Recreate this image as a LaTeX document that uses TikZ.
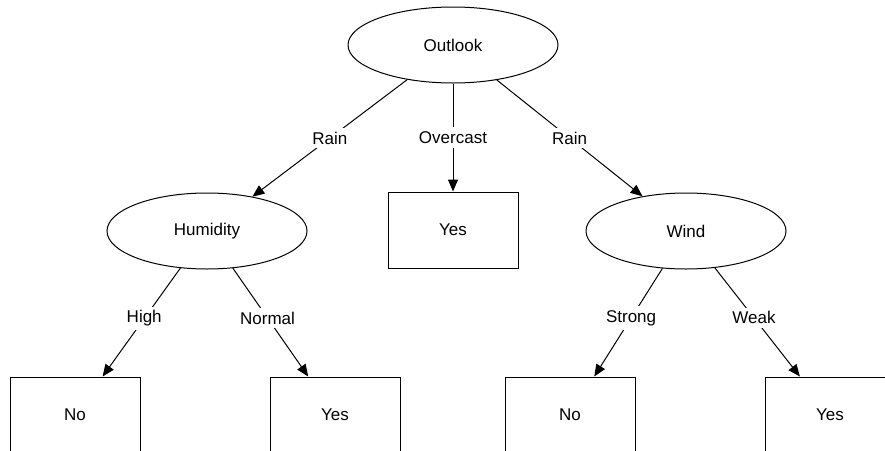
\documentclass[tikz,border=0pt]{standalone}
\usepackage{fontspec}
\setmainfont{Liberation Sans}
\usetikzlibrary{shapes.geometric,arrows.meta}
\begin{document}
\begin{tikzpicture}[x=1pt,y=-1pt,
  every node/.style={font=\fontsize{17}{20}\selectfont},
  decision/.style={ellipse,draw,line width=1pt,inner sep=0pt,
    minimum width=210pt,minimum height=76pt},
  leaf/.style={rectangle,draw,line width=1pt,inner sep=0pt,
    minimum width=130pt,minimum height=76pt},
  branch/.style={line width=1pt,-{Triangle[length=12pt,width=10pt]}},
  tag/.style={fill=white,inner sep=4pt}]
  \useasboundingbox (0,0) rectangle (885,450);
  \clip (0,0) rectangle (885,450);

  % decision nodes
  \node[decision] (outlook) at (453,45) {Outlook};
  \node[decision,minimum width=200pt] (humidity) at (207,231) {Humidity};
  \node[decision,minimum width=200pt] (wind) at (686,231) {Wind};

  % leaves
  \node[leaf] (midyes) at (453,230) {Yes};
  \node[leaf] (hno) at (75,415) {No};
  \node[leaf] (nyes) at (335,415) {Yes};
  \node[leaf] (sno) at (570,415) {No};
  \node[leaf] (wyes) at (830,415) {Yes};

  % branches
  \draw[branch] (outlook) -- node[tag,pos=0.5] {Rain} (humidity);
  \draw[branch] (outlook) -- node[tag,pos=0.5] {Overcast} (midyes);
  \draw[branch] (outlook) -- node[tag,pos=0.5] {Rain} (wind);
  \draw[branch] (humidity) -- node[tag,pos=0.465] {High} (hno);
  \draw[branch] (humidity) -- node[tag,pos=0.46] {Normal} (nyes);
  \draw[branch] (wind) -- node[tag,pos=0.46] {Strong} (sno);
  \draw[branch] (wind) -- node[tag,pos=0.46] {Weak} (wyes);
\end{tikzpicture}
\end{document}
